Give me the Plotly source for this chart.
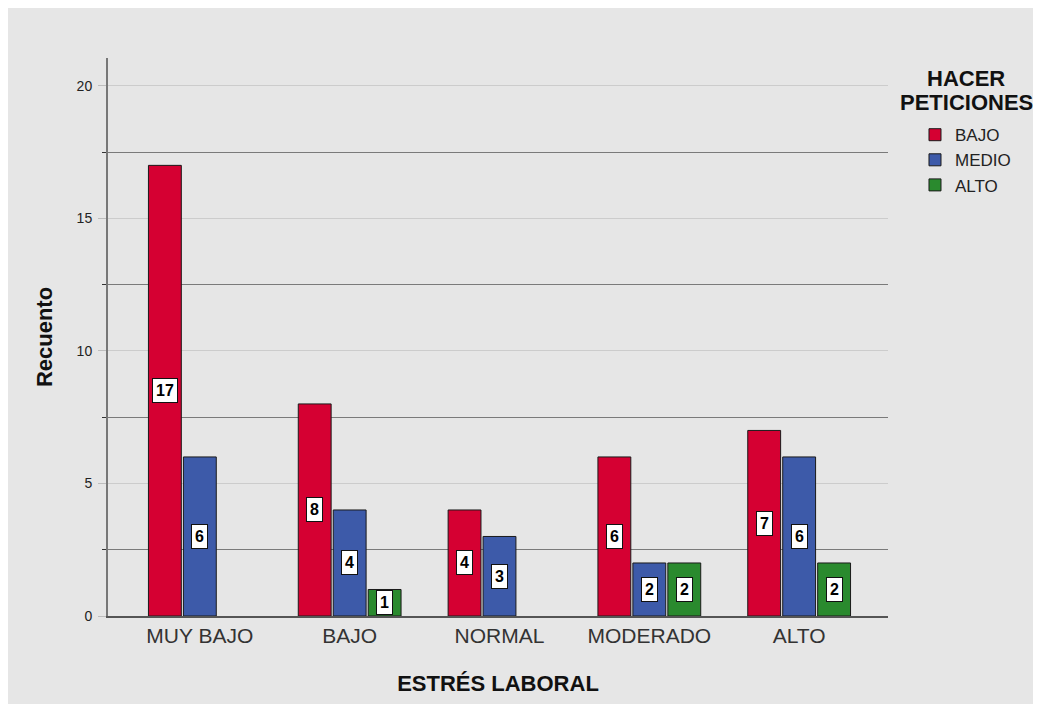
"""SPSS-style grouped bar chart: ESTRÉS LABORAL by HACER PETICIONES."""

import plotly.graph_objects as go

categories = ["MUY BAJO", "BAJO", "NORMAL", "MODERADO", "ALTO"]
groups = ["BAJO", "MEDIO", "ALTO"]
bajo = [17, 8, 4, 6, 7]
medio = [6, 4, 3, 2, 6]
alto = [None, 1, None, 2, 2]
colors = ["#d50032", "#3d5aa9", "#2a8a2e"]
legend_heading = ["HACER", "PETICIONES"]

FONT = "Arial, Liberation Sans, sans-serif"
BG = "#e6e6e6"
BARGAP = 0.3
pitch = (1 - BARGAP) / len(groups)

fig = go.Figure()
xs = list(range(len(categories)))
for j, (name, vals) in enumerate(zip(groups, [bajo, medio, alto])):
    fig.add_trace(go.Bar(
        x=xs, y=vals, name=name,
        marker=dict(color=colors[j], line=dict(color="#1a1a1a", width=1)),
    ))
    # value boxes at mid-height of each bar
    for i, v in enumerate(vals):
        if v is None:
            continue
        fig.add_annotation(
            x=i + (j - 1) * pitch, y=v / 2, text=f"<b>{v}</b>",
            showarrow=False, bgcolor="white", bordercolor="#111111",
            borderwidth=1, borderpad=3,
            font=dict(family=FONT, size=16, color="black"),
        )

# legend heading, centred over the legend like SPSS does it (tight line spacing)
for k, line in enumerate(legend_heading):
    fig.add_annotation(
        xref="paper", yref="paper", x=1.1, y=0.964 - 0.043 * k,
        xanchor="center", yanchor="middle",
        text=f"<b>{line}</b>", showarrow=False,
        font=dict(family=FONT, size=22, color="#111111"),
    )

fig.update_layout(
    width=1033, height=696,
    barmode="group", bargap=BARGAP, bargroupgap=0.06,
    paper_bgcolor=BG, plot_bgcolor=BG,
    margin=dict(l=100, r=153, t=50, b=88),
    font=dict(family=FONT, color="#222222"),
    legend=dict(
        x=1.0346, xanchor="left", y=0.894, yanchor="top",
        font=dict(size=17, color="#222222"),
        bgcolor="rgba(0,0,0,0)", tracegroupgap=0, itemwidth=30,
    ),
)
fig.update_xaxes(
    range=[-0.613, 4.593], tickvals=xs, ticktext=categories,
    tickfont=dict(size=21, color="#333333"), ticks="",
    showgrid=False, zeroline=False,
    showline=True, linecolor="#555555", linewidth=1.5,
    title=dict(text="<b>ESTRÉS LABORAL</b>", font=dict(size=22, color="#111111"),
               standoff=30),
)
fig.update_yaxes(
    range=[0, 21.05], tickvals=[0, 5, 10, 15, 20],
    tickfont=dict(size=14, color="#222222"), ticklabelstandoff=3,
    ticks="outside", ticklen=8, tickcolor="#bdbdbd",
    showgrid=True, gridcolor="#cccccc", gridwidth=1,
    minor=dict(tickvals=[2.5, 7.5, 12.5, 17.5], showgrid=True,
               gridcolor="#7a7a7a", gridwidth=1, ticks="outside",
               ticklen=4, tickcolor="#333333"),
    zeroline=False,
    showline=True, linecolor="#777777", linewidth=2,
    title=dict(text="<b>Recuento</b>", font=dict(size=22, color="#111111"),
               standoff=18),
)

fig.write_html("out.html")
